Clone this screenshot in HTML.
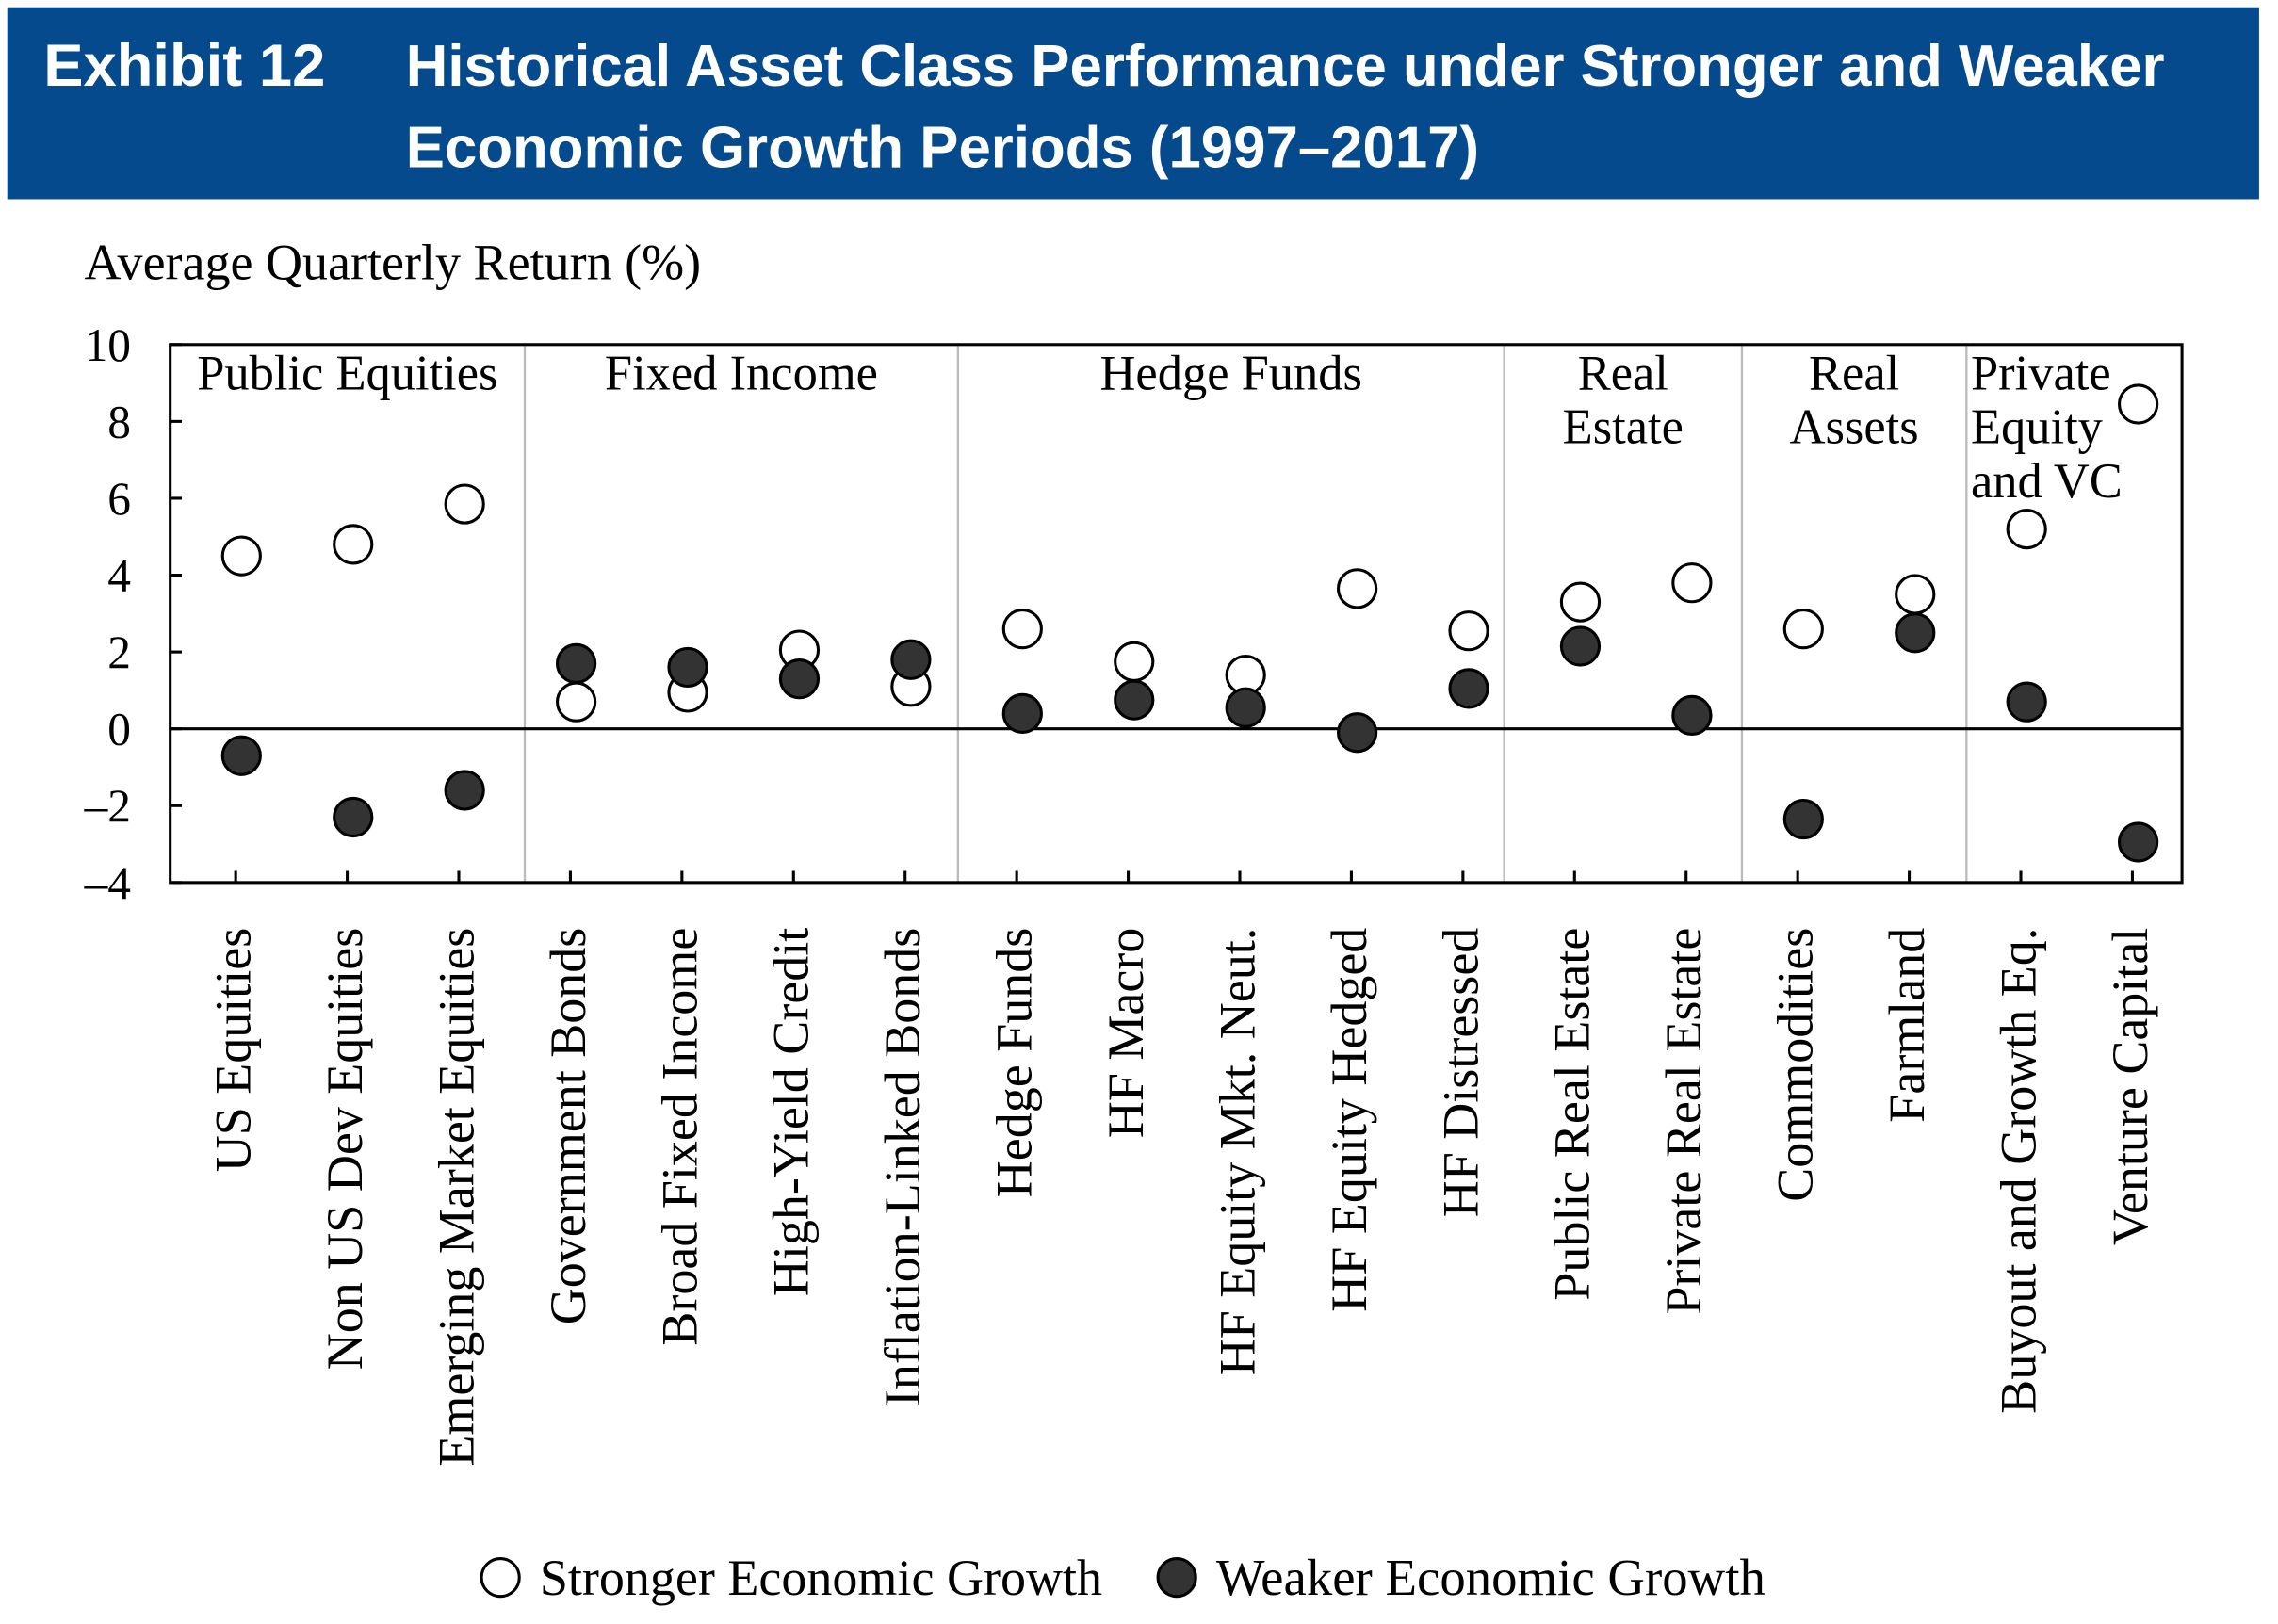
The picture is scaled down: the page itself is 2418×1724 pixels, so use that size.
<!DOCTYPE html>
<html><head><meta charset="utf-8"><style>
html,body{margin:0;padding:0;background:#fff;}
svg{display:block;}
</style></head><body>
<svg id="chart" width="2418" height="1724" viewBox="0 0 1566 1117" preserveAspectRatio="none" xmlns="http://www.w3.org/2000/svg">
<rect x="5" y="5" width="1548" height="132" fill="#054a8c"/>
<text x="30" y="59" font-family="Liberation Sans, sans-serif" font-weight="bold" font-size="41" fill="#fff">Exhibit 12</text>
<text font-family="Liberation Sans, sans-serif" font-weight="bold" font-size="40" fill="#fff"><tspan x="279" y="59">Historical Asset Class Performance under Stronger and Weaker</tspan><tspan x="279" y="115">Economic Growth Periods (1997–2017)</tspan></text>
<text x="58" y="192" font-family="Liberation Serif, serif" font-size="35">Average Quarterly Return (%)</text>
<g id="plot"></g>
<g>
<circle cx="344" cy="1085" r="13" fill="#fff" stroke="#000" stroke-width="2"/>
<text x="371" y="1097" font-family="Liberation Serif, serif" font-size="35">Stronger Economic Growth</text>
<circle cx="809" cy="1085" r="13" fill="#333" stroke="#000" stroke-width="2"/>
<text x="836" y="1097" font-family="Liberation Serif, serif" font-size="35.5">Weaker Economic Growth</text>
</g>
</svg>
<script>
const categories=["US Equities","Non US Dev Equities","Emerging Market Equities","Government Bonds","Broad Fixed Income","High-Yield Credit","Inflation-Linked Bonds","Hedge Funds","HF Macro","HF Equity Mkt. Neut.","HF Equity Hedged","HF Distressed","Public Real Estate","Private Real Estate","Commodities","Farmland","Buyout and Growth Eq.","Venture Capital"];
const stronger=[4.5,4.8,5.85,0.7,0.95,2.05,1.1,2.6,1.75,1.4,3.65,2.55,3.3,3.8,2.6,3.5,5.2,8.45];
const weaker=[-0.7,-2.3,-1.6,1.7,1.6,1.3,1.8,0.4,0.75,0.55,-0.1,1.05,2.15,0.35,-2.35,2.5,0.7,-2.95];
const yTicks=[10,8,6,4,2,0,-2,-4];
const groupNames=[["Public Equities"],["Fixed Income"],["Hedge Funds"],["Real","Estate"],["Real","Assets"],["Private","Equity","and VC"]];
const groupSizes=[3,4,5,2,2,2];

const NS="http://www.w3.org/2000/svg";
const g=document.getElementById('plot');
const L=117,R=1500,T=237,B=607,YMAX=10,YMIN=-4;
const y=v=>T+(YMAX-v)/(YMAX-YMIN)*(B-T);
const step=76.7;
const x=i=>166+i*step;
const divOffset=[0,3,-6,-14,-4,-3]; // layout tweak for divider lines
function mk(tag,attrs,txt){const e=document.createElementNS(NS,tag);for(const k in attrs)e.setAttribute(k,attrs[k]);if(txt!==undefined)e.textContent=txt;g.appendChild(e);return e;}

let idx=0;
const bounds=[];
groupSizes.forEach((n,gi)=>{
  const start=idx;idx+=n;
  const leftB=gi===0?L:(x(start-1)+x(start))/2+divOffset[gi];
  bounds.push(leftB);
});
bounds.push(R);
groupSizes.forEach((n,gi)=>{
  const leftB=bounds[gi],rightB=bounds[gi+1];
  if(gi>0){const d=mk('line',{x1:leftB,x2:leftB,y1:T,y2:B,stroke:'#bbb','stroke-width':1.5});
    
    }
  const lines=groupNames[gi];
  const last=gi===groupSizes.length-1;
  const cx=last?leftB+3:(leftB+rightB)/2;
  lines.forEach((ln,li)=>{
    const t=mk('text',{x:cx,y:268+li*37,'text-anchor':last?'start':'middle','font-family':'Liberation Serif, serif','font-size':34},ln);
    
    
  });
});
const z=mk('line',{x1:L,x2:R,y1:y(0),y2:y(0),stroke:'#000','stroke-width':2});


const fr=mk('rect',{x:L,y:T,width:R-L,height:B-T,fill:'none',stroke:'#000','stroke-width':2});


yTicks.forEach(v=>{
  const tl=mk('line',{x1:L,x2:L+8,y1:y(v),y2:y(v),stroke:'#000','stroke-width':2});
  
  
  const t=mk('text',{x:90,y:y(v)+11,'text-anchor':'end','font-family':'Liberation Serif, serif','font-size':32},v<0?'\u2013'+Math.abs(v):String(v));
  
  
});
categories.forEach((c,i)=>{
  const tk=mk('line',{x1:x(i)-4,x2:x(i)-4,y1:B,y2:B-8,stroke:'#000','stroke-width':2});
  
  
  const t=mk('text',{transform:`translate(${x(i)+6},638) rotate(-90)`,'text-anchor':'end','font-family':'Liberation Serif, serif','font-size':35},c);
  
  
});
categories.forEach((c,i)=>{
  const s=mk('circle',{cx:x(i),cy:y(stronger[i]),r:13,fill:'#fff',stroke:'#000','stroke-width':2});
  
  
  const w=mk('circle',{cx:x(i),cy:y(weaker[i]),r:13,fill:'#333',stroke:'#000','stroke-width':2});
  
  
});
</script>
</body></html>
